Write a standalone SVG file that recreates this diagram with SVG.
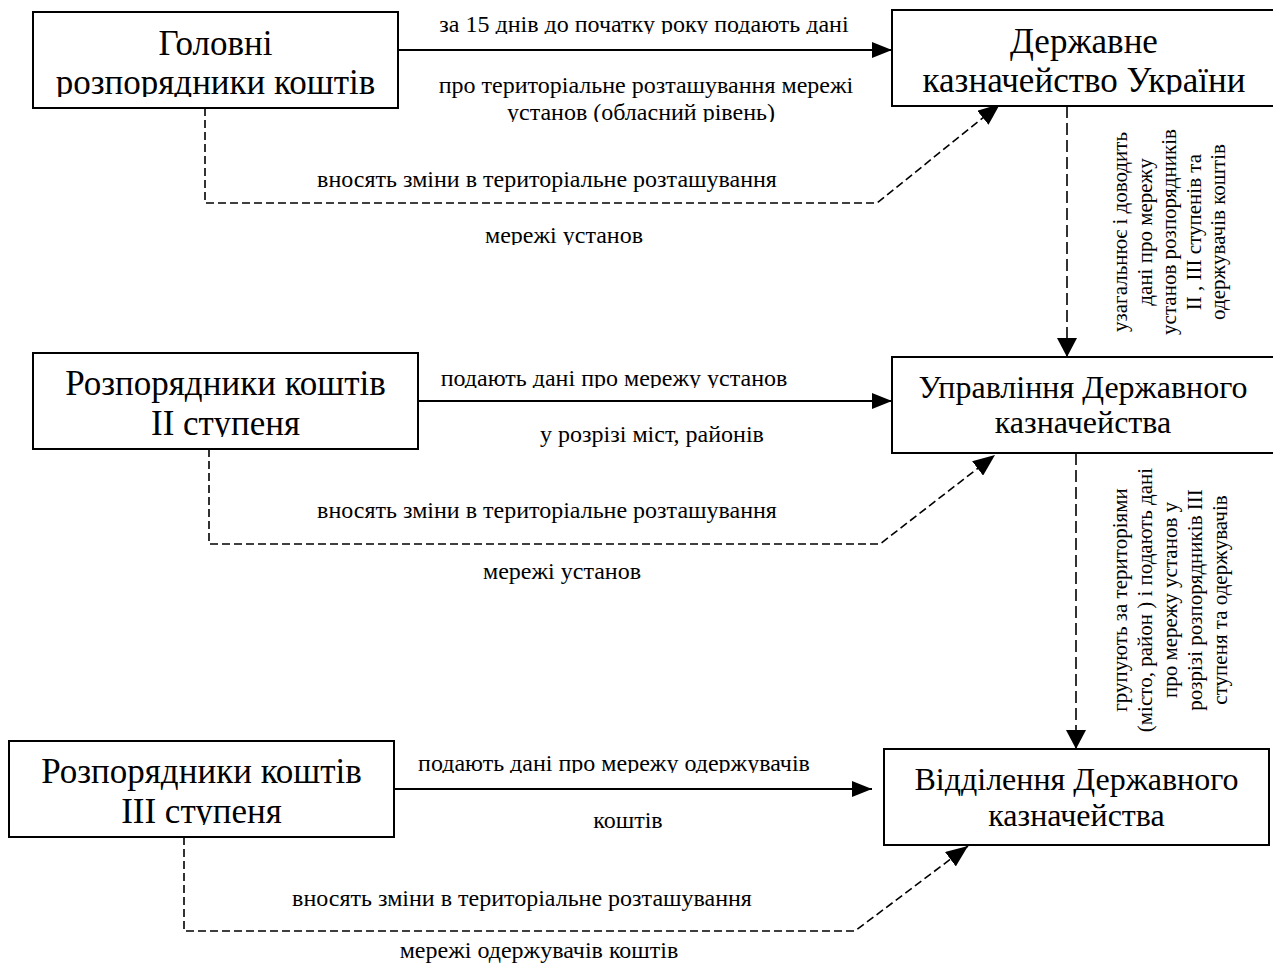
<svg xmlns="http://www.w3.org/2000/svg" width="1273" height="971" viewBox="0 0 1273 971">
<style>
  .bg { fill: #ffffff; }
  .box { fill: #ffffff; stroke: #000000; stroke-width: 2; }
  .bt { font-family: "Liberation Serif", "Times New Roman", serif; font-size: 35px; fill: #000000; text-anchor: middle; }
  .bt2 { font-family: "Liberation Serif", "Times New Roman", serif; font-size: 32px; fill: #000000; text-anchor: middle; }
  .lbl { font-family: "Liberation Serif", "Times New Roman", serif; font-size: 24px; fill: #000000; text-anchor: middle; }
  .vl { font-family: "Liberation Serif", "Times New Roman", serif; font-size: 21px; fill: #000000; text-anchor: middle; }
  .solid { fill: none; stroke: #000000; stroke-width: 2; marker-end: url(#arr); }
  .dash { fill: none; stroke: #000000; stroke-width: 1.6; stroke-dasharray: 8 4; marker-end: url(#arrD); }
  .vdash { fill: none; stroke: #000000; stroke-width: 1.6; stroke-dasharray: 12 5; marker-end: url(#arrV); }
</style>
<defs>
  <marker id="arr" markerUnits="userSpaceOnUse" markerWidth="20" markerHeight="16" refX="20" refY="8" orient="auto">
    <path d="M0,0 L20,8 L0,16 Z" fill="#000000"/>
  </marker>
  <marker id="arrD" markerUnits="userSpaceOnUse" markerWidth="22" markerHeight="18" refX="22" refY="9" orient="auto">
    <path d="M0,0 L22,9 L0,18 Z" fill="#000000"/>
  </marker>
  <marker id="arrV" markerUnits="userSpaceOnUse" markerWidth="19" markerHeight="20" refX="19" refY="10" orient="auto">
    <path d="M0,0 L19,10 L0,20 Z" fill="#000000"/>
  </marker>
  <clipPath id="k1"><rect x="0" y="60" width="1273" height="37"/></clipPath>
  <clipPath id="k2"><rect x="0" y="58" width="1273" height="36.5"/></clipPath>
  <clipPath id="k3"><rect x="0" y="0" width="1273" height="34"/></clipPath>
  <clipPath id="k4"><rect x="0" y="96" width="1273" height="26"/></clipPath>
  <clipPath id="k5"><rect x="0" y="215" width="1273" height="30"/></clipPath>
  <clipPath id="k6"><rect x="0" y="360" width="1273" height="28"/></clipPath>
  <clipPath id="k7"><rect x="0" y="400" width="1273" height="37"/></clipPath>
  <clipPath id="k8"><rect x="0" y="745" width="1273" height="28"/></clipPath>
  <clipPath id="k9"><rect x="0" y="790" width="1273" height="35"/></clipPath>
</defs>
<rect class="bg" x="0" y="0" width="1273" height="971"/>

<g id="connectors">
  <line class="solid" x1="398" y1="50" x2="892" y2="50"/>
  <line class="solid" x1="418" y1="401" x2="892" y2="401"/>
  <line class="solid" x1="394" y1="789" x2="872" y2="789"/>
  <polyline class="dash" points="205,108 205,203 877,203 1000,104"/>
  <polyline class="dash" points="209,449 209,544 880,544 995,455"/>
  <polyline class="dash" points="184,837 184,931 855,931 968,846"/>
  <line class="vdash" x1="1067" y1="106" x2="1067" y2="357"/>
  <line class="vdash" x1="1076" y1="453" x2="1076" y2="749"/>
</g>

<g id="labels">
  <text class="lbl" x="644" y="32" clip-path="url(#k3)">за 15 днів до початку року подають дані</text>
  <text class="lbl" x="646" y="93">про територіальне розташування мережі</text>
  <text class="lbl" x="641" y="120" clip-path="url(#k4)">установ (обласний рівень)</text>
  <text class="lbl" x="547" y="187">вносять зміни в територіальне розташування</text>
  <text class="lbl" x="564" y="243" clip-path="url(#k5)">мережі установ</text>

  <text class="lbl" x="614" y="386" clip-path="url(#k6)">подають дані про мережу установ</text>
  <text class="lbl" x="652" y="442">у розрізі міст, районів</text>
  <text class="lbl" x="547" y="518">вносять зміни в територіальне розташування</text>
  <text class="lbl" x="562" y="579">мережі установ</text>

  <text class="lbl" x="614" y="771" clip-path="url(#k8)">подають дані про мережу одержувачів</text>
  <text class="lbl" x="628" y="828">коштів</text>
  <text class="lbl" x="522" y="906">вносять зміни в територіальне розташування</text>
  <text class="lbl" x="539" y="958">мережі одержувачів коштів</text>

  <g transform="translate(0,232)">
    <text class="vl" transform="translate(1127,0) rotate(-90)">узагальнює і доводить</text>
    <text class="vl" transform="translate(1151.5,0) rotate(-90)">дані про мережу</text>
    <text class="vl" transform="translate(1176,0) rotate(-90)">установ розпорядників</text>
    <text class="vl" transform="translate(1200.5,0) rotate(-90)">II , III ступенів та</text>
    <text class="vl" transform="translate(1225,0) rotate(-90)">одержувачів коштів</text>
  </g>
  <g transform="translate(0,600)">
    <text class="vl" transform="translate(1127,0) rotate(-90)">групують за територіями</text>
    <text class="vl" transform="translate(1152,0) rotate(-90)">(місто, район ) і подають дані</text>
    <text class="vl" transform="translate(1177,0) rotate(-90)">про мережу установ у</text>
    <text class="vl" transform="translate(1202,0) rotate(-90)">розрізі розпорядників III</text>
    <text class="vl" transform="translate(1227,0) rotate(-90)">ступеня та одержувачів</text>
  </g>
</g>

<g id="node-golovni">
  <rect class="box" x="33" y="12" width="365" height="96"/>
  <text class="bt" x="215.5" y="55">Головні</text>
  <text class="bt" x="215.5" y="94" clip-path="url(#k1)">розпорядники коштів</text>
</g>
<g id="node-dku">
  <rect class="box" x="892" y="10" width="390" height="96"/>
  <text class="bt" x="1084" y="53">Державне</text>
  <text class="bt" x="1084" y="92" clip-path="url(#k2)">казначейство України</text>
</g>
<g id="node-rozp2">
  <rect class="box" x="33" y="353" width="385" height="96"/>
  <text class="bt" x="225.5" y="395">Розпорядники коштів</text>
  <text class="bt" x="225.5" y="435" clip-path="url(#k7)">II ступеня</text>
</g>
<g id="node-upravlinnia">
  <rect class="box" x="892" y="357" width="390" height="96"/>
  <text class="bt2" x="1083" y="398">Управління Державного</text>
  <text class="bt2" x="1083" y="433">казначейства</text>
</g>
<g id="node-rozp3">
  <rect class="box" x="9" y="741" width="385" height="96"/>
  <text class="bt" x="201.5" y="783">Розпорядники коштів</text>
  <text class="bt" x="201.5" y="823" clip-path="url(#k9)">III ступеня</text>
</g>
<g id="node-viddilennia">
  <rect class="box" x="884" y="749" width="385" height="96"/>
  <text class="bt2" x="1076.5" y="790">Відділення Державного</text>
  <text class="bt2" x="1076.5" y="826">казначейства</text>
</g>
</svg>
